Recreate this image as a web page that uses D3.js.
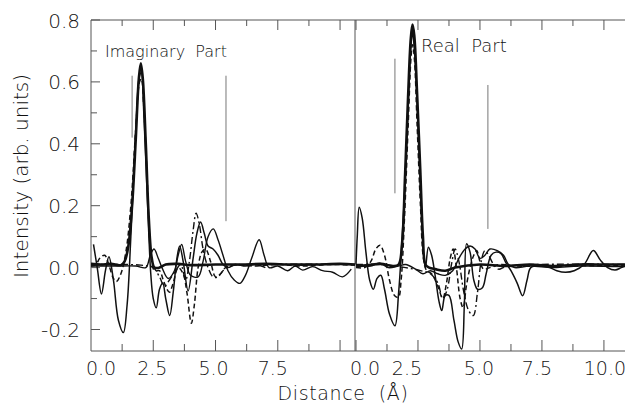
<!DOCTYPE html>
<html>
<head>
<meta charset="utf-8">
<script src="https://cdn.jsdelivr.net/npm/d3@7"></script>
<style>
  body { margin: 0; background: #fff; }
  text { font-family: "DejaVu Sans", sans-serif; fill: #111; font-weight: 300; }
</style>
</head>
<body>
<div id="graphic"></div>
<script>
// ---- data: [distance, intensity] ----
// imaginary part (left panel)
const imagThick = [[0,0.012],[0.4,0.01],[0.8,0.012],[1.2,0.008],[1.35,0.02],[1.5,0.07],[1.65,0.2],[1.8,0.42],[1.92,0.61],[2.0,0.66],[2.08,0.61],[2.2,0.4],[2.32,0.16],[2.44,0.03],[2.55,0.0],[2.75,0.0],[3.0,0.01],[3.5,0.012],[4.0,0.008],[5.0,0.01],[6.0,0.01],[7.0,0.012],[8.0,0.01],[9.0,0.01],[10.0,0.012],[10.6,0.01]];
const imagThin = [[0.1,0.075],[0.25,0.0],[0.42,-0.085],[0.58,-0.01],[0.72,0.035],[0.9,-0.04],[1.1,-0.17],[1.3,-0.21],[1.45,-0.12],[1.6,0.1],[1.8,0.45],[1.95,0.62],[2.02,0.63],[2.12,0.5],[2.25,0.25],[2.4,-0.02],[2.5,-0.1],[2.62,-0.13],[2.75,-0.07],[2.88,-0.05],[3.0,-0.1],[3.16,-0.155],[3.3,-0.08],[3.45,0.03],[3.56,0.07],[3.7,0.02],[3.9,-0.075],[4.1,0.03],[4.25,0.11],[4.4,0.147],[4.55,0.11],[4.7,0.07],[4.9,0.06],[5.1,0.04],[5.3,0.01],[5.5,0.0],[5.8,0.01],[6.2,0.005],[6.6,0.01],[7.0,0.0]];
const imagSecond = [[0,0.005],[1.0,0.005],[1.8,0.005],[2.2,0.0],[2.38,0.04],[2.53,0.06],[2.7,0.03],[2.85,0.0],[3.1,-0.035],[3.35,-0.01],[3.5,0.04],[3.64,0.075],[3.8,0.02],[4.0,-0.025],[4.3,-0.03],[4.5,0.02],[4.7,0.1],[4.91,0.125],[5.1,0.09],[5.3,0.04],[5.5,-0.01],[5.75,-0.04],[5.98,-0.051],[6.2,-0.025],[6.45,0.03],[6.75,0.09],[6.95,0.04],[7.15,0.0],[7.5,0.005],[7.9,-0.01],[8.2,0.005],[8.5,-0.008],[8.9,0.003],[9.3,-0.01],[9.7,-0.015],[10.1,-0.03],[10.45,-0.005]];
const imagDashed = [[0,0.005],[0.2,0.01],[0.35,0.03],[0.55,0.04],[0.75,0.0],[0.9,-0.035],[1.02,-0.045],[1.2,-0.02],[1.4,0.05],[1.6,0.2],[1.8,0.45],[1.95,0.6],[2.02,0.61],[2.12,0.52],[2.25,0.3],[2.4,0.05],[2.55,-0.01],[2.75,-0.01],[2.9,-0.04],[3.05,-0.07],[3.15,-0.08],[3.3,-0.05],[3.5,0.0],[3.7,-0.02],[3.85,-0.08],[4.03,-0.18],[4.15,-0.12],[4.3,0.0],[4.45,0.05],[4.6,0.06],[4.8,0.02],[5.0,-0.03],[5.2,-0.02],[5.4,0.0],[5.8,0.01],[6.5,0.005],[7.5,0.01],[8.5,0.005],[9.5,0.01],[10.6,0.008]];
const imagDashDot = [[0,0.01],[1.0,0.01],[2.0,0.008],[2.5,0.0],[2.75,-0.03],[2.95,-0.06],[3.15,-0.04],[3.4,-0.01],[3.6,0.01],[3.8,-0.04],[3.95,0.02],[4.1,0.12],[4.22,0.176],[4.35,0.14],[4.5,0.06],[4.7,0.0],[4.9,-0.03],[5.1,-0.03],[5.3,-0.01],[5.6,0.005],[6.5,0.01],[10.6,0.01]];

// real part (right panel)
const realThick = [[0,0.005],[0.5,0.008],[1.0,0.012],[1.5,0.005],[1.72,0.01],[1.86,0.08],[1.98,0.3],[2.1,0.55],[2.21,0.74],[2.28,0.785],[2.35,0.75],[2.46,0.57],[2.59,0.32],[2.7,0.1],[2.8,0.01],[2.95,0.0],[3.2,-0.005],[3.6,-0.01],[4.0,0.0],[5.0,0.01],[6.0,0.005],[7.0,0.01],[8.0,0.005],[9.0,0.01],[10.0,0.01],[10.85,0.01]];
const realThin = [[0,0.01],[0.05,0.1],[0.13,0.195],[0.25,0.16],[0.4,0.05],[0.55,-0.04],[0.7,-0.07],[0.85,-0.035],[1.0,-0.025],[1.15,-0.07],[1.35,-0.15],[1.57,-0.188],[1.72,-0.08],[1.85,0.08],[2.0,0.3],[2.12,0.55],[2.22,0.72],[2.28,0.76],[2.36,0.7],[2.48,0.5],[2.6,0.25],[2.72,0.05],[2.8,0.0],[2.92,0.066],[3.05,0.04],[3.2,-0.03],[3.35,-0.11],[3.46,-0.139],[3.6,-0.09],[3.75,-0.09],[3.95,-0.17],[4.12,-0.24],[4.26,-0.263],[4.37,-0.12],[4.46,0.077],[4.6,0.05],[4.75,-0.04],[4.9,-0.07],[5.1,-0.065],[5.25,-0.02],[5.45,0.04],[5.65,0.05],[5.85,0.045],[6.05,0.015],[6.25,-0.01],[6.5,-0.05],[6.72,-0.091],[6.9,-0.04],[7.05,0.0],[7.4,0.005],[7.8,0.0],[8.1,-0.01],[8.45,-0.015],[8.8,-0.01],[9.2,0.01],[9.57,0.055],[9.85,0.025],[10.15,0.0],[10.45,-0.008],[10.7,0.0],[10.85,0.005]];
const realSecond = [[0,0.005],[0.6,0.005],[0.95,0.015],[1.3,0.0],[1.7,0.005],[2.0,0.01],[2.4,-0.005],[2.7,-0.02],[3.0,-0.01],[3.3,-0.02],[3.6,-0.025],[3.9,-0.01],[4.15,0.03],[4.4,0.06],[4.6,0.07],[4.8,0.06],[5.0,0.03],[5.2,0.04],[5.4,0.06],[5.7,0.055],[5.95,0.04],[6.15,0.01],[6.4,0.0],[7.0,0.005],[8.0,0.0],[9.0,0.005],[10.85,0.003]];
const realDashed = [[0,0.0],[0.35,0.0],[0.6,0.02],[0.8,0.06],[0.97,0.072],[1.15,0.04],[1.35,-0.04],[1.55,-0.09],[1.71,-0.096],[1.82,-0.04],[1.95,0.15],[2.1,0.45],[2.22,0.68],[2.28,0.72],[2.35,0.68],[2.47,0.45],[2.6,0.2],[2.72,0.03],[2.85,-0.01],[3.05,-0.02],[3.3,-0.06],[3.5,-0.1],[3.65,-0.05],[3.8,0.03],[3.92,0.06],[4.05,0.0],[4.2,-0.1],[4.32,-0.13],[4.45,-0.06],[4.6,0.0],[4.75,0.04],[4.87,0.055],[5.0,0.02],[5.15,-0.005],[5.4,0.0],[5.8,0.01],[6.5,0.005],[10.85,0.008]];
const realDashDot = [[0,0.01],[1.0,0.01],[2.0,0.0],[2.6,-0.01],[3.0,-0.02],[3.3,-0.05],[3.5,-0.1],[3.68,-0.07],[3.85,0.01],[4.0,0.06],[4.15,0.02],[4.35,-0.08],[4.55,-0.14],[4.73,-0.155],[4.9,-0.08],[5.05,0.02],[5.2,0.055],[5.35,0.04],[5.55,0.01],[5.75,-0.005],[6.1,0.005],[10.85,0.01]];

// vertical marker lines [x, yTop, yBottom]
const imagMarkers = [[1.65,0.62,0.42],[5.42,0.62,0.15]];
const realMarkers = [[1.57,0.675,0.24],[5.32,0.59,0.125]];

// tick values and labels
const yMajor = [-0.2, 0.0, 0.2, 0.4, 0.6, 0.8];
const yMinor = [-0.1, 0.1, 0.3, 0.5, 0.7];
const xTicks = [0, 1.25, 2.5, 3.75, 5, 6.25, 7.5, 8.75, 10];
const imagLabels = [0, 2.5, 5, 7.5];
const realLabels = [0, 2.5, 5, 7.5, 10];

// ---- layout ----
const width = 626, height = 409;
const plotLeft = 91, plotTop = 20, plotBottom = 351, plotRight = 625, split = 355;

const svg = d3.select("#graphic").append("svg")
    .attr("width", width)
    .attr("height", height);

const y = d3.scaleLinear().domain([-0.2, 0.8]).range([329.5, 20]);
const xL = d3.scaleLinear().domain([0, 10.6]).range([plotLeft, split]);
const xR = d3.scaleLinear().domain([0, 10.85]).range([356, plotRight]);
const fmt = v => d3.format(".1f")(v).replace("\u2212", "-");

// frame
const frame = svg.append("g").attr("stroke", "#555").attr("stroke-width", 1).attr("fill", "none");
frame.append("line").attr("x1", plotLeft).attr("x2", plotLeft).attr("y1", plotTop).attr("y2", plotBottom);
frame.append("line").attr("x1", plotLeft).attr("x2", plotRight).attr("y1", plotTop).attr("y2", plotTop);
frame.append("line").attr("x1", plotLeft).attr("x2", plotRight).attr("y1", plotBottom).attr("y2", plotBottom);
frame.append("line").attr("x1", split).attr("x2", split).attr("y1", plotTop).attr("y2", plotBottom);

// y ticks (inward)
yMajor.forEach(v => {
  frame.append("line").attr("x1", plotLeft).attr("x2", plotLeft + 9).attr("y1", y(v)).attr("y2", y(v));
  svg.append("text").attr("x", 80).attr("y", y(v) + 7.5)
    .attr("text-anchor", "end").attr("font-size", 20)
    .text(fmt(v));
});
yMinor.forEach(v => {
  frame.append("line").attr("x1", plotLeft).attr("x2", plotLeft + 6).attr("y1", y(v)).attr("y2", y(v));
});

// x ticks, top and bottom, both panels
[xL, xR].forEach(x => {
  xTicks.forEach(t => {
    const len = (t % 2.5 === 0) ? 10 : 6;
    const px = x(t);
    if (px <= plotLeft + 1) return;
    frame.append("line").attr("x1", px).attr("x2", px).attr("y1", plotBottom).attr("y2", plotBottom - len - 1);
    frame.append("line").attr("x1", px).attr("x2", px).attr("y1", plotTop).attr("y2", plotTop + len);
  });
});

// x tick labels (hand placed a little in the original)
const imagNudge = [10, -1, -2, -5];
const realNudge = [9, -11, -1, -5, 1];
imagLabels.forEach((t, i) => {
  svg.append("text").attr("x", xL(t) + imagNudge[i]).attr("y", 375)
    .attr("text-anchor", "middle").attr("font-size", 19).text(fmt(t));
});
realLabels.forEach((t, i) => {
  svg.append("text").attr("x", xR(t) + realNudge[i]).attr("y", 375)
    .attr("text-anchor", "middle").attr("font-size", 19).text(fmt(t));
});

// axis titles
svg.append("text").attr("x", 343).attr("y", 400)
  .attr("text-anchor", "middle").attr("font-size", 19).attr("letter-spacing", 0.6)
  .style("white-space", "pre").text("Distance  (Å)");
svg.append("text").attr("transform", "translate(28,176) rotate(-90)")
  .attr("text-anchor", "middle").attr("font-size", 20)
  .text("Intensity (arb. units)");

// panel labels
svg.append("text").attr("x", 105).attr("y", 57).attr("font-size", 16)
  .style("white-space", "pre").text("Imaginary  Part");
svg.append("text").attr("x", 421).attr("y", 52).attr("font-size", 18)
  .style("white-space", "pre").text("Real  Part");

// clip paths
const defs = svg.append("defs");
defs.append("clipPath").attr("id", "clipL").append("rect")
  .attr("x", plotLeft).attr("y", plotTop).attr("width", split - plotLeft).attr("height", plotBottom - plotTop);
defs.append("clipPath").attr("id", "clipR").append("rect")
  .attr("x", split).attr("y", plotTop).attr("width", plotRight - split).attr("height", plotBottom - plotTop);

function drawPanel(x, clipId, series, markers) {
  const g = svg.append("g").attr("clip-path", "url(#" + clipId + ")");

  markers.forEach(m => {
    g.append("line").attr("x1", x(m[0])).attr("x2", x(m[0]))
      .attr("y1", y(m[1])).attr("y2", y(m[2]))
      .attr("stroke", "#777").attr("stroke-width", 1);
  });

  const line = d3.line()
    .curve(d3.curveCatmullRom.alpha(0.5))
    .x(d => x(d[0]))
    .y(d => y(d[1]));

  series.forEach(s => {
    g.append("path")
      .datum(s.data)
      .attr("fill", "none")
      .attr("stroke", "#111")
      .attr("stroke-width", s.w)
      .attr("stroke-dasharray", s.dash || null)
      .attr("stroke-linejoin", "round")
      .attr("d", line);
  });
}

drawPanel(xL, "clipL", [
  {data: imagSecond, w: 1.4},
  {data: imagThin, w: 1.5},
  {data: imagDashDot, w: 1.4, dash: "7,3,2,3"},
  {data: imagDashed, w: 1.5, dash: "5,3"},
  {data: imagThick, w: 2.6}
], imagMarkers);

drawPanel(xR, "clipR", [
  {data: realSecond, w: 1.4},
  {data: realThin, w: 1.5},
  {data: realDashDot, w: 1.4, dash: "7,3,2,3"},
  {data: realDashed, w: 1.5, dash: "5,3"},
  {data: realThick, w: 2.6}
], realMarkers);
</script>
</body>
</html>
